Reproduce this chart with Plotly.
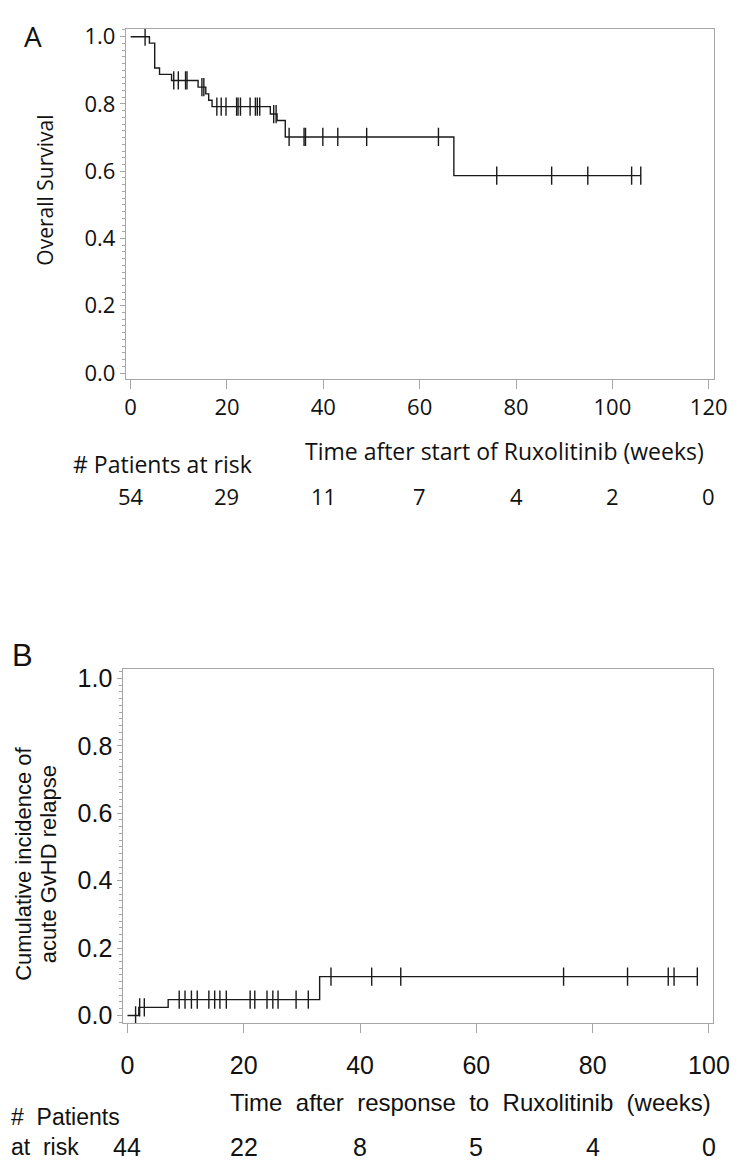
import plotly.graph_objects as go

W, H = 741, 1168

# ---------------- Panel A: overall survival (Kaplan-Meier) ----------------
a_event_weeks = [0, 3.9, 5.0, 6.0, 8.5, 14.0, 15.6, 16.2, 16.9, 29.0, 30.4, 32.1, 67.1]
a_survival = [1.0, 0.981, 0.907, 0.888, 0.870, 0.850, 0.830, 0.811, 0.792, 0.770, 0.751, 0.702, 0.587]
a_censor_weeks = [3.0, 8.95, 9.9, 11.4, 11.7, 14.8, 15.2, 17.9, 18.8, 19.8, 22.0, 22.3, 22.8,
                  24.8, 25.9, 26.3, 26.8, 29.7, 30.2, 32.9, 36.0, 36.3, 39.9, 43.0, 49.0, 63.9,
                  76.0, 87.4, 94.9, 104.0, 105.9]
a_xticks = [0, 20, 40, 60, 80, 100, 120]
a_risk = [54, 29, 11, 7, 4, 2, 0]

# ---------------- Panel B: cumulative incidence of aGvHD relapse ----------------
b_event_weeks = [0, 1.95, 7.0, 33.05]
b_cuminc = [0.0, 0.024, 0.047, 0.115]
b_censor_weeks = [1.4, 2.1, 2.9, 8.9, 9.9, 11.0, 12.0, 14.0, 15.0, 15.9, 17.0, 21.1, 21.9,
                  24.0, 25.0, 25.9, 29.0, 31.1, 35.0, 42.0, 47.0, 75.0, 86.0, 93.0, 94.0, 98.0]
b_xticks = [0, 20, 40, 60, 80, 100]
b_risk = [44, 22, 8, 5, 4, 0]

yticks = [0.0, 0.2, 0.4, 0.6, 0.8, 1.0]


def step_xy(times, levels, end):
    return list(times) + [end], list(levels) + [levels[-1]]


def level_at(times, levels, t):
    v = levels[0]
    for tt, lv in zip(times, levels):
        if tt <= t:
            v = lv
    return v


CURVE = "#1a1a1a"
GRAY = "#a6a6a6"
FA = "Open Sans, DejaVu Sans, sans-serif"
FB = "Liberation Sans, Arial, Helvetica, sans-serif"

fig = go.Figure()

ax, ay = step_xy(a_event_weeks, a_survival, max(a_censor_weeks))
fig.add_trace(go.Scatter(x=ax, y=ay, mode="lines", line=dict(shape="hv", color=CURVE, width=1.4),
                         xaxis="x", yaxis="y", hoverinfo="skip"))
fig.add_trace(go.Scatter(x=a_censor_weeks,
                         y=[level_at(a_event_weeks, a_survival, t) for t in a_censor_weeks],
                         mode="markers",
                         marker=dict(symbol="line-ns", size=13, line=dict(color=CURVE, width=1.4)),
                         xaxis="x", yaxis="y", hoverinfo="skip"))

bx, by = step_xy(b_event_weeks, b_cuminc, max(b_censor_weeks))
fig.add_trace(go.Scatter(x=bx, y=by, mode="lines", line=dict(shape="hv", color=CURVE, width=1.4),
                         xaxis="x2", yaxis="y2", hoverinfo="skip"))
fig.add_trace(go.Scatter(x=b_censor_weeks,
                         y=[level_at(b_event_weeks, b_cuminc, t) for t in b_censor_weeks],
                         mode="markers",
                         marker=dict(symbol="line-ns", size=13, line=dict(color=CURVE, width=1.4)),
                         xaxis="x2", yaxis="y2", hoverinfo="skip"))


def px(x):
    return x / W


def py(y):
    return 1 - y / H


common_axis = dict(showline=True, linecolor=GRAY, linewidth=1, mirror=True, showgrid=False,
                   zeroline=False, ticks="outside", tickcolor=GRAY, tickwidth=1)

fig.update_layout(
    width=W, height=H, margin=dict(l=0, r=0, t=0, b=0),
    plot_bgcolor="white", paper_bgcolor="white", showlegend=False,
    xaxis=dict(domain=[px(118), px(722)], range=[-1, 121], tickvals=a_xticks, ticklen=9,
               anchor="y", tickfont=dict(family=FA, size=22, color="#111"), **common_axis),
    yaxis=dict(domain=[py(368), py(12.7)], range=[-0.0176, 1.0243], tickvals=yticks,
               tickformat=".1f", ticklen=5, anchor="x",
               minor=dict(dtick=0.02, ticklen=3, tickcolor=GRAY, ticks="outside", showgrid=False),
               tickfont=dict(family=FA, size=22, color="#111"), **common_axis),
    xaxis2=dict(domain=[px(115.5), px(721.5)], range=[-0.7, 100.7], tickvals=b_xticks, ticklen=9,
                anchor="y2", ticklabelstandoff=11,
                tickfont=dict(family=FB, size=25, color="#111"), **common_axis),
    yaxis2=dict(domain=[py(1021), py(662)], range=[-0.0225, 1.028], tickvals=yticks,
                tickformat=".1f", ticklen=5, anchor="x2",
                minor=dict(dtick=0.02, ticklen=3, tickcolor=GRAY, ticks="outside", showgrid=False),
                tickfont=dict(family=FB, size=25, color="#111"), **common_axis),
)

ann = []


def add_text(text, x, y, size, family, xanchor="center", xref="paper", angle=0, align="center"):
    ann.append(dict(text=text, x=x, y=py(y), xref=xref, yref="paper", xanchor=xanchor,
                    yanchor="middle", showarrow=False, textangle=angle, align=align,
                    font=dict(family=family, size=size, color="#111")))


# Panel A texts
add_text("A", px(23), 20, 28, FA)
add_text("Overall Survival", px(34), 177, 21, FA, angle=-90)
add_text("Time after start of Ruxolitinib (weeks)", px(714), 441, 23, FA, xanchor="right")
add_text("# Patients at risk", px(156), 454, 23, FA)
for t, r in zip(a_xticks, a_risk):
    add_text(str(r), t, 487, 22, FA, xref="x")

# Panel B texts
add_text("B", px(12), 648, 31, FB)
add_text("Cumulative incidence of", px(13), 860, 22, FB, angle=-90)
add_text("acute GvHD relapse", px(38), 860, 22, FB, angle=-90)
add_text("Time\u00a0 after\u00a0 response\u00a0 to\u00a0 Ruxolitinib\u00a0 (weeks)", px(721), 1102, 24, FB,
         xanchor="right")
add_text("#\u00a0 Patients<br>at\u00a0 risk", px(-2), 1132, 23, FB, xanchor="left", align="left")
for t, r in zip(b_xticks, b_risk):
    add_text(str(r), t, 1147, 25, FB, xref="x2")

fig.update_layout(annotations=ann)
fig.write_html("out.html")
